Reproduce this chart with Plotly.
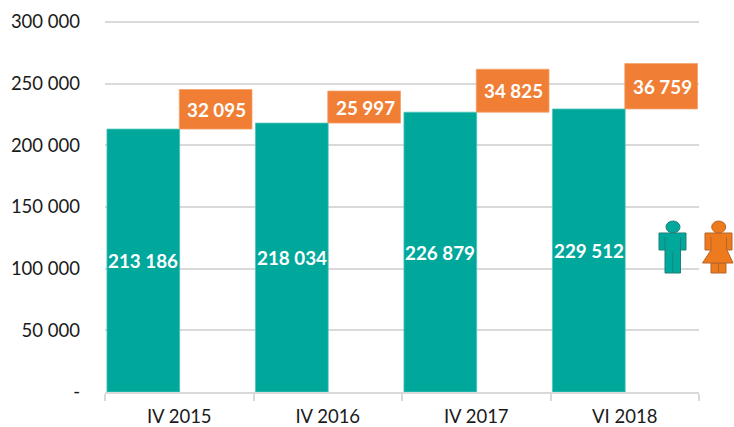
import plotly.graph_objects as go

categories = ["IV 2015", "IV 2016", "IV 2017", "VI 2018"]
men = [213186, 218034, 226879, 229512]
women = [32095, 25997, 34825, 36759]
men_labels = ["213 186", "218 034", "226 879", "229 512"]
women_labels = ["32 095", "25 997", "34 825", "36 759"]
y_ticks = [0, 50000, 100000, 150000, 200000, 250000, 300000]
y_tick_labels = ["-", "50 000", "100 000", "150 000", "200 000", "250 000", "300 000"]

W, H = 734, 427
ML, MR, MT, MB = 105, 35, 20, 35
AXIS_TOP_PX, AXIS_ZERO_PX = 22, H - MB
Y_MAX = 300000 * (AXIS_ZERO_PX - MT) / (AXIS_ZERO_PX - AXIS_TOP_PX)
TEAL, ORANGE = "#00A89C", "#F07F35"
FONT = "Lato, Carlito, Liberation Sans, sans-serif"
LABEL_FONT = dict(family=FONT, size=18.8, color="white", weight="bold")

fig = go.Figure()
fig.add_bar(x=categories, y=men, width=0.49, offset=-0.487,
            marker=dict(color=TEAL, line=dict(color="#4FC4BC", width=0.75)))
fig.add_bar(x=categories, y=women, base=men, width=0.49, offset=0.0,
            marker=dict(color=ORANGE, line=dict(color="#F4A26B", width=0.75)))

for c, m, w, ml, wl in zip(categories, men, women, men_labels, women_labels):
    fig.add_annotation(x=c, y=m / 2, text=ml, showarrow=False, xshift=-36,
                       font=LABEL_FONT, xref="x", yref="y")
    fig.add_annotation(x=c, y=m + w / 2, text=wl, showarrow=False, xshift=37.5,
                       font=LABEL_FONT, xref="x", yref="y")


def px(x):
    return (x - ML) / (W - ML - MR)


def py(y):
    return 1 - (y - MT) / (H - MT - MB)


def poly(points):
    return "M " + " L ".join(f"{px(x):.5f},{py(y):.5f}" for x, y in points) + " Z"


def add_path(points, fill, edge):
    fig.add_shape(type="path", xref="paper", yref="paper", path=poly(points),
                  fillcolor=fill, line=dict(color=edge, width=1), layer="above")


def add_head(cx, cy, rx, ry, fill, edge):
    fig.add_shape(type="circle", xref="paper", yref="paper",
                  x0=px(cx - rx), x1=px(cx + rx), y0=py(cy + ry), y1=py(cy - ry),
                  fillcolor=fill, line=dict(color=edge, width=1), layer="above")


def add_seg(x0, y0, x1, y1, edge):
    fig.add_shape(type="line", xref="paper", yref="paper",
                  x0=px(x0), y0=py(y0), x1=px(x1), y1=py(y1),
                  line=dict(color=edge, width=1), layer="above")


# man icon
me = "#1F7F78"
add_head(673, 227, 7, 6, TEAL, me)
add_path([(659, 233), (686, 233), (686, 250), (680.5, 250), (680.5, 273),
          (665, 273), (665, 250), (659, 250)], TEAL, me)
add_seg(672.8, 252, 672.8, 273, me)
add_seg(665, 237, 665, 250, me)
add_seg(680.5, 237, 680.5, 250, me)

# woman icon
we = "#B5652B"
WF = "#EE7A1E"
add_head(718.7, 227, 7, 6, WF, we)
add_path([(711, 263), (726, 263), (726, 273), (711, 273)], WF, we)
add_seg(718.5, 263, 718.5, 273, we)
add_path([(705, 233), (732, 233), (732, 250), (727, 250), (733, 263), (702.5, 263),
          (711, 250), (705, 250)], WF, we)
add_seg(711, 237, 711, 250, we)
add_seg(726.5, 237, 726.5, 250, we)

fig.update_layout(
    width=W, height=H, barmode="overlay", showlegend=False,
    paper_bgcolor="white", plot_bgcolor="white",
    margin=dict(l=ML, r=MR, t=MT, b=MB, pad=0, autoexpand=False),
    font=dict(family=FONT, size=18.5, color="#1a1a1a"),
    xaxis=dict(type="category", tickson="boundaries", ticks="outside", ticklen=7,
               tickcolor="#d9d9d9", tickwidth=1.5, showline=True,
               linecolor="#d9d9d9", linewidth=1.5, showgrid=False, automargin=False,
               tickfont=dict(size=18.5), range=[-0.5, 3.5], ticklabelstandoff=7),
    yaxis=dict(range=[0, Y_MAX], tickvals=y_ticks, ticktext=y_tick_labels,
               showgrid=True, gridcolor="#d9d9d9", gridwidth=1.5, automargin=False,
               showline=False, zeroline=False, ticks="", ticklabelstandoff=24,
               tickfont=dict(size=18.5)),
)

fig.write_html("out.html", config=dict(displayModeBar=False),
               post_script="document.body.style.margin='0';")
